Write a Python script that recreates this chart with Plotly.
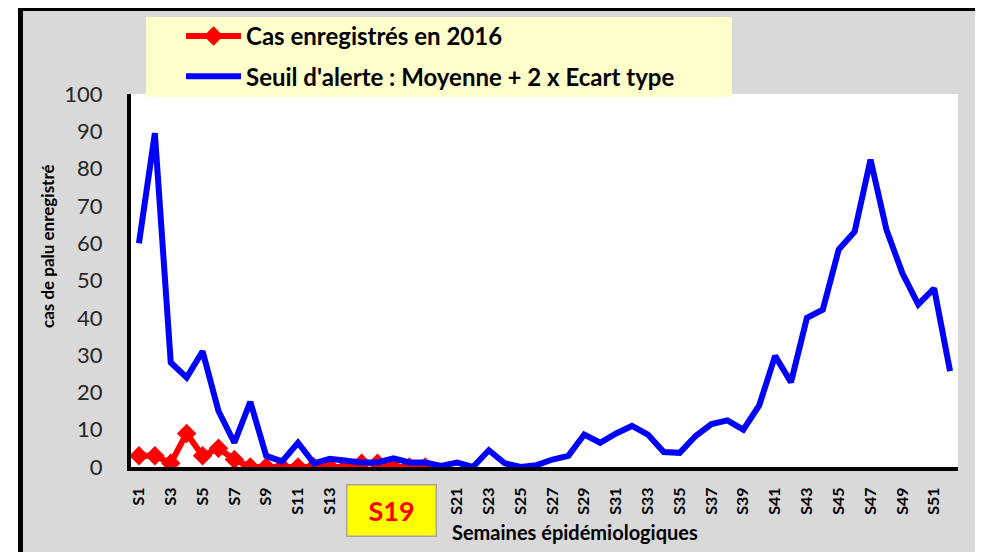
import plotly.graph_objects as go

# ---------------- data ----------------
weeks = ["S%d" % i for i in range(1, 53)]
tick_weeks = weeks[::2]
cases_2016 = [3, 3, 1, 9, 3, 5, 2, 0, 0, 0, 0, 0, 0, 0, 1, 1, 0, 0, 0]
alert_threshold = [60, 89.5, 28, 24, 31, 15, 6.5, 17.5, 3, 1.5, 6.5, 1, 2.2, 1.5, 1.2, 1.2,
                   2.3, 1.2, 1.2, 0.3, 1.2, 0, 4.5, 1, 0, 0.5, 2, 3, 8.7, 6.5, 9, 11,
                   8.7, 4, 3.8, 8.3, 11.5, 12.5, 10, 16.5, 29.8, 22.7, 40, 42.2, 58.3,
                   63.1, 82.4, 63.6, 52, 43.6, 47.9, 25.7]
y_ticks = [0, 10, 20, 30, 40, 50, 60, 70, 80, 90, 100]

name_cases = "Cas enregistrés en 2016"
name_alert = "Seuil d'alerte : Moyenne + 2 x Ecart type"
current_week = "S19"

# The page body has an 8px default margin: size the figure so it fits the window
OFF = 8
W, H = 983 - OFF, 552 - OFF
PL, PR, PT, PB = 131, 958, 94, 467          # plot area in page pixels
L, R, T, B = PL - OFF, 983 - PR, PT - OFF, H - (PB - OFF)
pw, ph = W - L - R, H - T - B


def px(x):  # page pixel -> paper x
    return (x - PL) / pw


def py(y):  # page pixel -> paper y
    return (PB - y) / ph


FONT = "Lato"

fig = go.Figure()
fig.add_trace(go.Scatter(
    x=weeks[:len(cases_2016)], y=cases_2016, name=name_cases, mode="lines+markers",
    line=dict(color="#FF0000", width=6), marker=dict(symbol="diamond", size=15, color="#FF0000"),
    legendgroup="a"))
fig.add_trace(go.Scatter(
    x=weeks, y=alert_threshold, name=name_alert, mode="lines",
    line=dict(color="#0000FF", width=6), legendgroup="b"))

shapes = [
    # white outer strip (left)
    dict(type="rect", xref="paper", yref="paper", x0=px(0), x1=px(18), y0=py(570), y1=py(0),
         fillcolor="white", line_width=0, layer="below"),
    # black outer border
    dict(type="line", xref="paper", yref="paper", x0=px(20.5), x1=px(20.5), y0=py(8), y1=py(570),
         line=dict(color="black", width=5)),
    dict(type="line", xref="paper", yref="paper", x0=px(18), x1=px(1000), y0=py(9.5), y1=py(9.5),
         line=dict(color="black", width=3)),
    # legend background
    dict(type="rect", xref="paper", yref="paper", x0=px(146), x1=px(732), y0=py(97), y1=py(17),
         fillcolor="#FFFFCC", line_width=0, layer="above"),
]

annotations = [
    dict(text="<b>%s</b>" % current_week, xref="paper", yref="paper", x=px(391), y=py(510),
         xanchor="center", yanchor="middle",
         showarrow=False, width=86, height=48, bgcolor="#FFFF00", bordercolor="#A6A6A6",
         borderwidth=1.5, font=dict(family=FONT, size=27, color="#FF0000")),
    dict(text="<b>Semaines épidémiologiques</b>", xref="paper", yref="paper", x=px(575), y=py(532),
         xanchor="center", yanchor="middle",
         showarrow=False, font=dict(family=FONT, size=20, color="black")),
    dict(text="<b>cas de palu enregistré</b>", xref="paper", yref="paper", x=px(47), y=py(246),
         xanchor="center", yanchor="middle",
         showarrow=False, textangle=-90, font=dict(family=FONT, size=17, color="black")),
]

fig.update_layout(
    width=W, height=H,
    margin=dict(l=L, r=R, t=T, b=B, pad=0, autoexpand=False),
    paper_bgcolor="#D9D9D9", plot_bgcolor="white",
    font=dict(family=FONT, color="black"),
    showlegend=True,
    legend=dict(x=px(181), y=py(14), xanchor="left", yanchor="top", bgcolor="rgba(0,0,0,0)",
                font=dict(family=FONT, size=24, color="black", weight="bold"),
                traceorder="grouped", tracegroupgap=6, itemwidth=55),
    shapes=shapes, annotations=annotations,
    xaxis=dict(type="category", categoryorder="array", categoryarray=weeks,
               range=[-0.5, 51.5], tickmode="array", tickvals=tick_weeks, ticktext=tick_weeks,
               tickangle=-90, tickfont=dict(family=FONT, size=16, color="black", weight="bold"),
               showline=True, linecolor="black", linewidth=4, showgrid=False, zeroline=False,
               ticks="outside", ticklen=10, tickcolor="rgba(0,0,0,0)", automargin=False),
    yaxis=dict(range=[0, 100], tickmode="array", tickvals=y_ticks,
               tickfont=dict(family=FONT, size=22, color="#262626"),
               showline=True, linecolor="black", linewidth=4, showgrid=False, zeroline=False,
               ticks="outside", ticklen=20, tickcolor="rgba(0,0,0,0)", automargin=False),
)

fig.write_html("out.html")
